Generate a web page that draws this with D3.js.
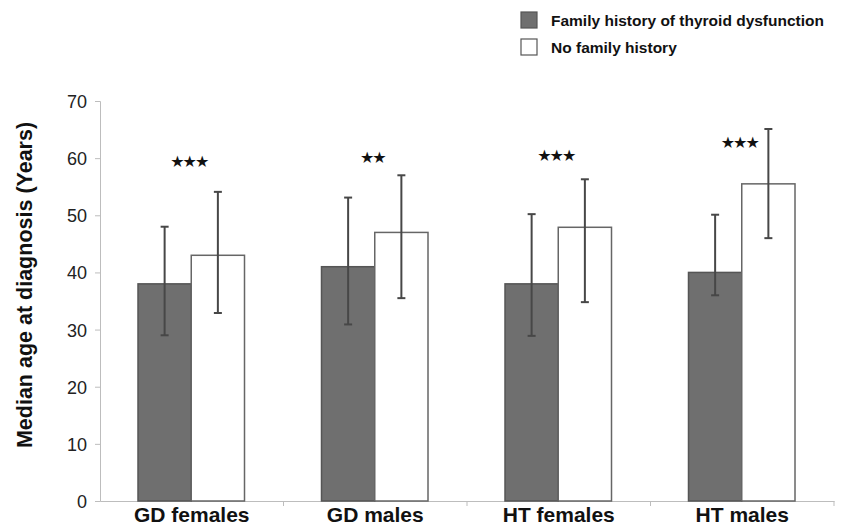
<!DOCTYPE html>
<html>
<head>
<meta charset="utf-8">
<script src="https://cdn.jsdelivr.net/npm/d3@7"></script>
<style>
  body { margin: 0; background: #fff; }
  svg { font-family: "Liberation Sans", Arial, sans-serif; }
</style>
</head>
<body>
<svg id="chart" width="847" height="527"></svg>
<script>
// Data
const groups = ["GD females", "GD males", "HT females", "HT males"];
const seriesNames = ["Family history of thyroid dysfunction", "No family history"];
const familyMedian = [38, 41, 38, 40];
const familyLow = [29, 30.9, 28.9, 36];
const familyHigh = [48, 53.1, 50.2, 50.1];
const noFamilyMedian = [43, 47, 47.9, 55.5];
const noFamilyLow = [32.9, 35.5, 34.8, 46];
const noFamilyHigh = [54.1, 57, 56.3, 65.1];
const sigLabels = ["***", "**", "***", "***"];
const sigY = [59.5, 60.2, 60.5, 62.7];
const yTicks = [0, 10, 20, 30, 40, 50, 60, 70];

const fills = ["#6f6f6f", "#ffffff"];
const strokes = ["#555", "#666"];

const svg = d3.select("#chart");
const margin = { top: 101, right: 13, bottom: 26, left: 100 };
const width = 847, height = 527;

const x0 = d3.scaleBand()
    .domain(groups)
    .range([margin.left, width - margin.right]);

const x1 = d3.scaleBand()
    .domain([0, 1])
    .range([38, x0.bandwidth() - 39]);

const y = d3.scaleLinear()
    .domain([0, 70])
    .range([height - margin.bottom, margin.top]);

// bar rows built from the arrays
const rows = groups.map((g, i) => [
    { g, s: 0, v: familyMedian[i], lo: familyLow[i], hi: familyHigh[i] },
    { g, s: 1, v: noFamilyMedian[i], lo: noFamilyLow[i], hi: noFamilyHigh[i] }
]).flat();

// y axis
const yAxis = svg.append("g")
    .attr("transform", `translate(${margin.left},0)`)
    .call(d3.axisLeft(y).tickValues(yTicks).tickSize(5).tickPadding(8));
yAxis.select(".domain").attr("stroke", "#bdbdbd");
yAxis.selectAll(".tick line").attr("stroke", "#bdbdbd");
yAxis.selectAll(".tick text")
    .attr("font-size", 18)
    .attr("fill", "#222")
    .attr("dy", "0.36em");

// x axis
const xAxis = svg.append("g")
    .attr("transform", `translate(0,${y(0)})`)
    .call(d3.axisBottom(x0).tickSize(0).tickPadding(8).tickSizeOuter(0));
xAxis.select(".domain").attr("stroke", "#bdbdbd");
xAxis.selectAll(".tick text")
    .attr("font-size", 21)
    .attr("font-weight", "bold")
    .attr("fill", "#111")
    .attr("dy", "0.62em");
// category separators
xAxis.selectAll(".sep")
    .data(groups)
    .join("line")
    .attr("class", "sep")
    .attr("x1", d => x0(d) + x0.bandwidth())
    .attr("x2", d => x0(d) + x0.bandwidth())
    .attr("y1", 0)
    .attr("y2", 5)
    .attr("stroke", "#bdbdbd");

// bars
svg.append("g")
    .selectAll("rect")
    .data(rows)
    .join("rect")
    .attr("x", d => x0(d.g) + x1(d.s))
    .attr("width", x1.bandwidth())
    .attr("y", d => y(d.v))
    .attr("height", d => y(0) - y(d.v))
    .attr("fill", d => fills[d.s])
    .attr("stroke", d => strokes[d.s])
    .attr("stroke-width", 1.5);

// error bars
const err = svg.append("g")
    .selectAll("g")
    .data(rows)
    .join("g")
    .attr("transform", d => `translate(${x0(d.g) + x1(d.s) + x1.bandwidth() / 2},0)`)
    .attr("stroke", "#474747")
    .attr("stroke-width", 2);
err.append("line")
    .attr("y1", d => y(d.lo))
    .attr("y2", d => y(d.hi));
err.append("line")
    .attr("x1", -4).attr("x2", 4)
    .attr("y1", d => y(d.hi)).attr("y2", d => y(d.hi));
err.append("line")
    .attr("x1", -4).attr("x2", 4)
    .attr("y1", d => y(d.lo)).attr("y2", d => y(d.lo));

// significance stars
svg.append("g")
    .selectAll("text")
    .data(groups)
    .join("text")
    .attr("x", (d, i) => x0(d) + x0.bandwidth() / 2 - 3)
    .attr("y", (d, i) => y(sigY[i]))
    .attr("dy", "0.35em")
    .attr("text-anchor", "middle")
    .attr("font-family", "DejaVu Sans")
    .attr("font-size", 16)
    .attr("letter-spacing", "-2px")
    .attr("fill", "#111")
    .text((d, i) => sigLabels[i].replace(/\*/g, "\u2605"));

// y axis title
svg.append("text")
    .attr("transform", `translate(32,285) rotate(-90)`)
    .attr("text-anchor", "middle")
    .attr("font-size", 21.5)
    .attr("font-weight", "bold")
    .attr("fill", "#111")
    .text("Median age at diagnosis (Years)");

// legend
const legend = svg.append("g")
    .attr("transform", "translate(521,12)")
    .selectAll("g")
    .data(seriesNames)
    .join("g")
    .attr("transform", (d, i) => `translate(0,${i * 27})`);
legend.append("rect")
    .attr("width", 16)
    .attr("height", 16)
    .attr("fill", (d, i) => fills[i])
    .attr("stroke", "#555")
    .attr("stroke-width", 1.2);
legend.append("text")
    .attr("x", 30)
    .attr("y", 8)
    .attr("dy", "0.36em")
    .attr("font-size", 15.5)
    .attr("font-weight", "bold")
    .attr("fill", "#111")
    .text(d => d);
</script>
</body>
</html>
